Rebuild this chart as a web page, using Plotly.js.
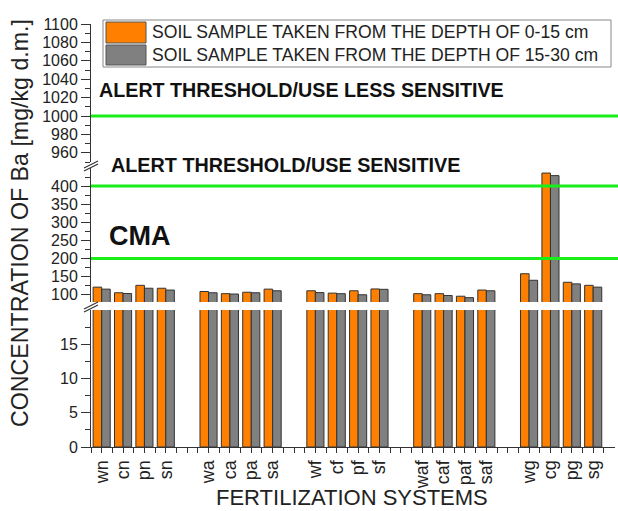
<!DOCTYPE html>
<html>
<head>
<meta charset="utf-8">
<script src="https://cdn.plot.ly/plotly-3.0.1.min.js"></script>
<style>html,body{margin:0;padding:0;background:#fff}#chart{width:618px;height:511px}</style>
</head>
<body>
<div id="chart"></div>
<script>
// ---- data ----
const categories = ['wn','cn','pn','sn','wa','ca','pa','sa','wf','cf','pf','sf','waf','caf','paf','saf','wg','cg','pg','sg'];
const depth0_15  = [121,105.5,126,118,109,103,107,115.5,111,104.5,111,116,103,103,96,113,158,436,134.5,126];
const depth15_30 = [115.5,103.5,118,113,105.5,102,105.5,111,106,103,100,115,100,98,92,111,140,429,130,121];
const seriesNames = ['SOIL SAMPLE TAKEN FROM THE DEPTH OF 0-15 cm','SOIL SAMPLE TAKEN FROM THE DEPTH OF 15-30 cm'];
const thresholds = {lessSensitive:1000, sensitive:400, cma:200};
const groupSize = 4;

// x positions: groups of 4 separated by one empty slot
const xpos = categories.map((c,i)=> i + Math.floor(i/groupSize) + 1);
const xmax = xpos[xpos.length-1];
const tickvals = [], ticktext = [];
for (let v = 0.5; v <= xmax + 0.5001; v += 0.5) {
  tickvals.push(v);
  const k = xpos.indexOf(v);
  ticktext.push(k >= 0 ? categories[k] : '');
}

const ORANGE = '#ff8000', GRAY = '#808080', GREEN = '#1aee1a';
const FONT = 'Liberation Sans, Arial, sans-serif';
const traces = [];
['y','y2'].forEach(ya=>{
  traces.push({type:'bar', x:xpos, y:depth0_15, yaxis:ya, name:seriesNames[0], showlegend:false,
    marker:{color:ORANGE, line:{color:'#333', width:1}}, hoverinfo:'skip'});
  traces.push({type:'bar', x:xpos, y:depth15_30, yaxis:ya, name:seriesNames[1], showlegend:false,
    marker:{color:GRAY, line:{color:'#333', width:1}}, hoverinfo:'skip'});
});

// pixel helpers for paper coords
const L=91, R=3, T=24, B=64, W=618, H=511;
const pw = W-L-R, ph = H-T-B;
const px = v => (v-L)/pw;
const py = v => (H-B-v)/ph;

const axCommon = {showline:true, linecolor:'#333', linewidth:1, ticks:'outside', ticklen:9, tickcolor:'#333',
  showgrid:false, zeroline:false, tickfont:{family:FONT, size:16, color:'#222'}, anchor:'x', fixedrange:true};

const shapes = [
  {type:'line', xref:'paper', x0:0, x1:1.01, yref:'y3', y0:thresholds.lessSensitive, y1:thresholds.lessSensitive, line:{color:GREEN, width:3}, layer:'above'},
  {type:'line', xref:'paper', x0:0, x1:1.01, yref:'y2', y0:thresholds.sensitive, y1:thresholds.sensitive, line:{color:GREEN, width:3}, layer:'above'},
  {type:'line', xref:'paper', x0:0, x1:1.01, yref:'y2', y0:thresholds.cma, y1:thresholds.cma, line:{color:GREEN, width:3}, layer:'above'},
  // white gap band
  {type:'rect', xref:'paper', x0:0.002, x1:1.01, yref:'paper', y0:py(310), y1:py(302), fillcolor:'#fff', line:{width:0}, layer:'above'},
  // break marks
  {type:'line', xref:'paper', yref:'paper', x0:px(84), x1:px(98), y0:py(309), y1:py(302), line:{color:'#333', width:1.2}},
  {type:'line', xref:'paper', yref:'paper', x0:px(84), x1:px(98), y0:py(312), y1:py(305), line:{color:'#333', width:1.2}},
  {type:'line', xref:'paper', yref:'paper', x0:px(84), x1:px(98), y0:py(168), y1:py(161), line:{color:'#333', width:1.2}},
  {type:'line', xref:'paper', yref:'paper', x0:px(84), x1:px(98), y0:py(171), y1:py(164), line:{color:'#333', width:1.2}},
  // legend box and swatches
  {type:'rect', xref:'paper', yref:'paper', x0:px(103), x1:px(611), y0:py(67), y1:py(20), fillcolor:'#fff', line:{color:'#888', width:1}, layer:'above'},
  {type:'rect', xref:'paper', yref:'paper', x0:px(106), x1:px(146), y0:py(43), y1:py(22), fillcolor:ORANGE, line:{color:'#555', width:1}, layer:'above'},
  {type:'rect', xref:'paper', yref:'paper', x0:px(106), x1:px(146), y0:py(65), y1:py(45), fillcolor:GRAY, line:{color:'#555', width:1}, layer:'above'}
];

const annotations = [
  {text:seriesNames[0], xref:'paper', yref:'paper', x:px(150), y:py(32.5), xanchor:'left', yanchor:'middle', showarrow:false, font:{family:FONT, size:17.6, color:'#222'}},
  {text:seriesNames[1], xref:'paper', yref:'paper', x:px(150), y:py(54.5), xanchor:'left', yanchor:'middle', showarrow:false, font:{family:FONT, size:17.6, color:'#222'}},
  {text:'<b>ALERT THRESHOLD/USE LESS SENSITIVE</b>', xref:'paper', yref:'paper', x:px(97), y:py(90), xanchor:'left', yanchor:'middle', showarrow:false, font:{family:FONT, size:19.7, color:'#111'}},
  {text:'<b>ALERT THRESHOLD/USE SENSITIVE</b>', xref:'paper', yref:'paper', x:px(109), y:py(165), xanchor:'left', yanchor:'middle', showarrow:false, font:{family:FONT, size:19.8, color:'#111'}},
  {text:'<b>CMA</b>', xref:'paper', yref:'paper', x:px(107), y:py(236), xanchor:'left', yanchor:'middle', showarrow:false, font:{family:FONT, size:27, color:'#111'}},
  {text:'CONCENTRATION OF Ba [mg/kg d.m.]', xref:'paper', yref:'paper', x:px(20), y:py(223), xanchor:'center', yanchor:'middle', textangle:-90, showarrow:false, font:{family:FONT, size:23.2, color:'#222'}},
  {text:'FERTILIZATION SYSTEMS', xref:'paper', yref:'paper', x:px(352), y:py(497), xanchor:'center', yanchor:'middle', showarrow:false, font:{family:FONT, size:22, color:'#222'}}
];

const layout = {
  width:W, height:H, margin:{l:L, r:R, t:T, b:B}, paper_bgcolor:'#fff', plot_bgcolor:'rgba(0,0,0,0)',
  barmode:'group', bargap:0.2, bargroupgap:0, showlegend:false,
  font:{family:FONT},
  xaxis:{range:[0.5, xmax+1.02], showline:true, linecolor:'#333', ticks:'outside', ticklen:5, tickcolor:'#333',
    tickmode:'array', tickvals:tickvals, ticktext:ticktext, tickangle:-90, showgrid:false, zeroline:false,
    tickfont:{family:FONT, size:18, color:'#222'}, anchor:'y', fixedrange:true},
  yaxis:Object.assign({}, axCommon, {domain:[0, py(310)], range:[0,20], tickmode:'array', tickvals:[0,5,10,15],
    minor:{tickmode:'array', tickvals:[2.5,7.5,12.5,17.5], ticklen:5, tickcolor:'#333'}}),
  yaxis2:Object.assign({}, axCommon, {domain:[py(302), py(168)], range:[80,450], tickmode:'array', tickvals:[100,150,200,250,300,350,400],
    minor:{tickmode:'array', tickvals:[125,175,225,275,325,375,425], ticklen:5, tickcolor:'#333'}}),
  yaxis3:Object.assign({}, axCommon, {domain:[py(162), 1], range:[950,1100], tickmode:'array', tickvals:[960,980,1000,1020,1040,1060,1080,1100],
    minor:{tickmode:'array', tickvals:[950,970,990,1010,1030,1050,1070,1090], ticklen:5, tickcolor:'#333'}}),
  shapes:shapes, annotations:annotations
};

Plotly.newPlot('chart', traces, layout, {staticPlot:true, displayModeBar:false});
</script>
</body>
</html>
